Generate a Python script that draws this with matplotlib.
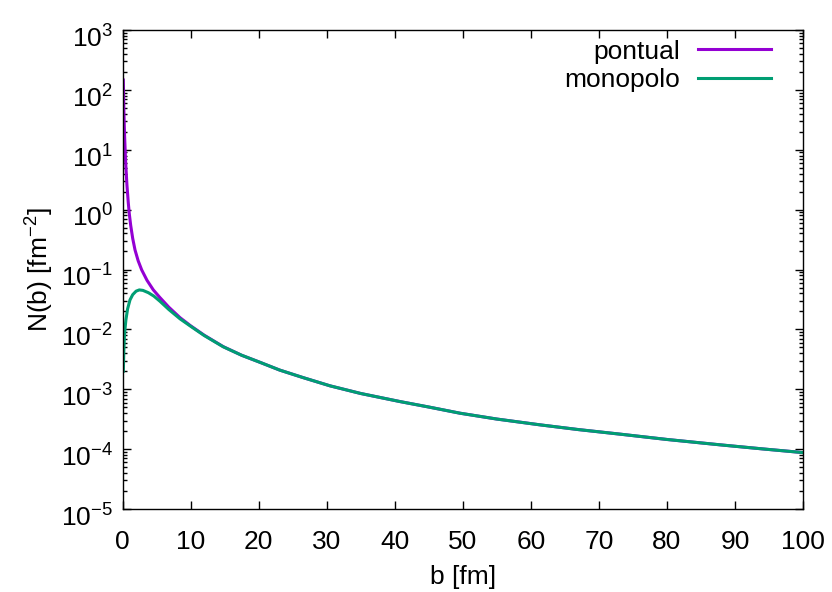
import matplotlib
matplotlib.use("Agg")
import matplotlib.pyplot as plt
import matplotlib.transforms as mtransforms
from matplotlib.ticker import LogLocator, FixedLocator, NullFormatter, LogFormatterSciNotation

plt.rcParams['font.family'] = ['Liberation Sans', 'DejaVu Sans']
plt.rcParams['mathtext.fontset'] = 'custom'
plt.rcParams['mathtext.rm'] = 'Liberation Sans'
plt.rcParams['mathtext.it'] = 'Liberation Sans'
plt.rcParams['mathtext.default'] = 'regular'
plt.rcParams['axes.unicode_minus'] = False

# Data
b_pontual = [0.12, 0.2, 0.3, 0.45, 0.65, 0.85, 1.0, 1.2, 1.5, 1.84, 2.3, 2.82, 3.6, 4.53, 5.5, 6.8, 8.45,
             10.0, 12.0, 14.8, 17.5, 20.3, 23.1, 26.5, 30.5, 35.0, 40.8, 45.0, 49.6, 55.0,
             61.4, 67.0, 73.1, 80.0, 87.8, 94.0, 100.0]
n_pontual = [146.0, 45.0, 18.0, 6.5, 2.6, 1.3, 0.85, 0.55, 0.33, 0.212, 0.14, 0.0985, 0.066, 0.0456,
             0.034, 0.0235, 0.0157, 0.0115, 0.0080, 0.00515, 0.0037, 0.00279, 0.00209, 0.00157, 0.00114,
             0.00085, 0.000622, 0.000505, 0.000398, 0.000318, 0.000254, 0.000212, 0.000178,
             0.000145, 0.000118, 0.000101, 0.0000875]

b_monopolo = [0.12, 0.2, 0.3, 0.5, 0.75, 1.1, 1.5, 2.0, 2.47, 3.0, 3.8, 4.6, 5.5, 6.8, 8.45,
              10.0, 12.0, 14.8, 17.5, 20.3, 23.1, 26.5, 30.5, 35.0, 40.8, 45.0, 49.6, 55.0,
              61.4, 67.0, 73.1, 80.0, 87.8, 94.0, 100.0]
n_monopolo = [0.0020, 0.0045, 0.0085, 0.0144, 0.022, 0.031, 0.038, 0.0435, 0.0456, 0.0448, 0.041,
              0.036, 0.0295, 0.0215, 0.0150, 0.0113, 0.0079, 0.00512, 0.0037, 0.00279, 0.00209,
              0.00157, 0.00114, 0.00085, 0.000622, 0.000505, 0.000398, 0.000318, 0.000254,
              0.000212, 0.000178, 0.000145, 0.000118, 0.000101, 0.0000875]

x_ticks = [0, 10, 20, 30, 40, 50, 60, 70, 80, 90, 100]

FS = 19

fig = plt.figure(figsize=(8.32, 5.92), dpi=100)
ax = fig.add_axes([122.5/832, 1-509/592, (803-122.5)/832, (509-30)/592])

purple = '#9400d3'
green = '#009e73'
ax.plot(b_pontual, n_pontual, color=purple, lw=2.2, label='pontual', solid_joinstyle='round')
ax.plot(b_monopolo, n_monopolo, color=green, lw=2.2, label='monopolo', solid_joinstyle='round')

ax.set_yscale('log')
ax.set_xlim(0, 100)
ax.set_ylim(1e-5, 1e3)
ax.xaxis.set_major_locator(FixedLocator(x_ticks))
ax.yaxis.set_major_locator(LogLocator(base=10, numticks=20))
ax.yaxis.set_minor_locator(LogLocator(base=10, subs=range(2, 10), numticks=20))
ax.yaxis.set_minor_formatter(NullFormatter())
ax.yaxis.set_major_formatter(LogFormatterSciNotation())

ax.tick_params(which='both', direction='in', top=True, right=True, labelsize=FS, width=1.0,
               colors='black')
ax.tick_params(which='major', length=5.8)
ax.tick_params(which='minor', length=2.9)
ax.tick_params(axis='x', which='major', pad=15)
ax.tick_params(axis='y', which='major', pad=7)
for s in ax.spines.values():
    s.set_linewidth(1.0)

# gnuplot centres the whole superscripted label, so the base sits a bit below the tick
shift = mtransforms.ScaledTranslation(0, -4.5 / 72, fig.dpi_scale_trans)
for lab in ax.get_yticklabels():
    lab.set_transform(lab.get_transform() + shift)

ax.set_xlabel('b [fm]', fontsize=FS, va='center')
ax.xaxis.set_label_coords(0.5, (509 - 577) / 479)
ax.set_ylabel('N(b) [fm$^{-2}$]', fontsize=FS, va='center')
ax.yaxis.set_label_coords((40 - 122.5) / 680.5, 0.5)

leg = ax.legend(loc='upper right', frameon=False, markerfirst=False, fontsize=FS,
                handlelength=2.75, handletextpad=0.7, labelspacing=0.16,
                borderaxespad=0.0, borderpad=0.0, bbox_to_anchor=(0.953, 0.98))

fig.savefig('out.png', dpi=100)
